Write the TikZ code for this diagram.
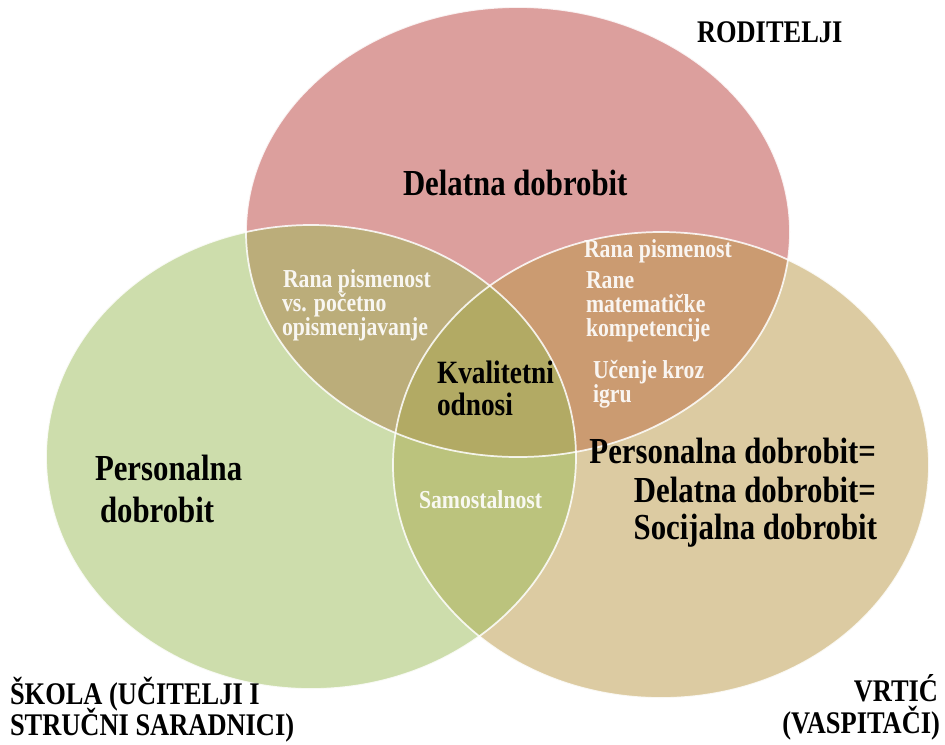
\documentclass[tikz,border=0pt]{standalone}
\usepackage{fontspec}
\setmainfont{Liberation Serif}[FakeStretch=0.84]
\usepackage{tikz}

\definecolor{rodcol}{RGB}{192,80,77}
\definecolor{vrtcol}{RGB}{186,152,70}
\definecolor{skolcol}{RGB}{155,187,89}

\begin{document}
\begin{tikzpicture}[x=0.75pt, y=-0.75pt,
  every node/.style={inner sep=0pt, outer sep=0pt},
  big/.style={font=\fontsize{27.5}{31}\selectfont\bfseries},
  grp/.style={font=\fontsize{23.6}{27}\selectfont\bfseries},
  mid/.style={font=\fontsize{24.4}{28}\selectfont\bfseries},
  lens/.style={font=\fontsize{19.4}{22}\selectfont\bfseries, text=white, text opacity=0.9},
  rim/.style={draw=white, line width=1.3pt, draw opacity=0.85}]
\useasboundingbox (0,0) rectangle (945,744);

\fill[rodcol, fill opacity=0.55] (518,232) ellipse [x radius=272, y radius=225];
\fill[vrtcol, fill opacity=0.5] (661,465) ellipse [x radius=268, y radius=233];
\fill[skolcol, fill opacity=0.5] (311,457) ellipse [x radius=265, y radius=232];
\draw[rim] (518,232) ellipse [x radius=272, y radius=225];
\draw[rim] (661,465) ellipse [x radius=268, y radius=233];
\draw[rim] (311,457) ellipse [x radius=265, y radius=232];

\node[grp, anchor=base west] (rod) at (697,42) {RODITELJI};
\node[big, anchor=base west] (delatna) at (403,195) {Delatna dobrobit};

\node[lens, anchor=base west] (ranaL) at (283,287) {Rana pismenost};
\node[lens, anchor=base west] (vsL) at (282,311) {vs. početno};
\node[lens, anchor=base west] (opisL) at (282,335) {opismenjavanje};

\node[lens, anchor=base west] (ranaR) at (584,257) {Rana pismenost};
\node[lens, anchor=base west] (raneR) at (586,288) {Rane};
\node[lens, anchor=base west] (matR) at (586,312) {matematičke};
\node[lens, anchor=base west] (kompR) at (586,336) {kompetencije};
\node[lens, anchor=base west] (ucR) at (593,378) {Učenje kroz};
\node[lens, anchor=base west] (igruR) at (593,402) {igru};

\node[mid, anchor=base west] (kval) at (437,383) {Kvalitetni};
\node[mid, anchor=base west] (odn) at (437,415) {odnosi};
\node[lens, anchor=base west] (samo) at (419,508) {Samostalnost};

\node[big, anchor=base west] (persL) at (95,480) {Personalna};
\node[big, anchor=base west] (dobrL) at (100,522) {dobrobit};

\node[big, anchor=base east] (persR) at (876,463) {Personalna dobrobit=};
\node[big, anchor=base east] (delR) at (876,502) {Delatna dobrobit=};
\node[big, anchor=base east] (socR) at (877,539) {Socijalna dobrobit};

\node[grp, anchor=base west] (skola) at (10,704) {ŠKOLA (UČITELJI I};
\node[grp, anchor=base west] (strucni) at (10,735) {STRUČNI SARADNICI)};
\node[grp, anchor=base east] (vrtic) at (938,701) {VRTIĆ};
\node[grp, anchor=base east] (vasp) at (940,733) {(VASPITAČI)};
\end{tikzpicture}
\end{document}
